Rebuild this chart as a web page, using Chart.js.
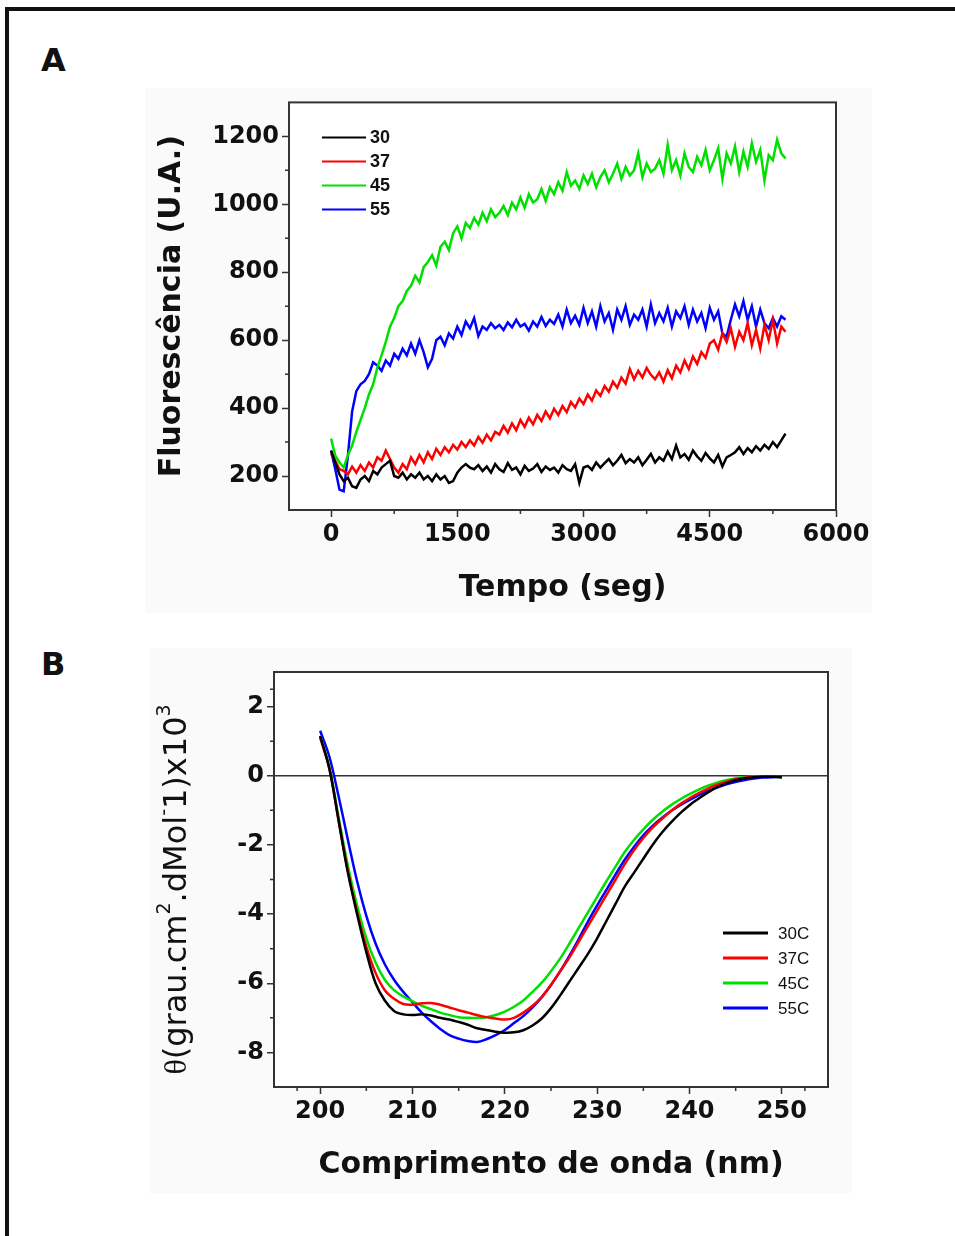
<!DOCTYPE html>
<html>
<head>
<meta charset="utf-8">
<script src="https://cdn.jsdelivr.net/npm/chart.js@4.4.0/dist/chart.umd.min.js"></script>
<style>
body { margin: 0; background: #fff; width: 955px; height: 1236px; overflow: hidden; position: relative; }
#moldura { position: absolute; left: 5px; top: 7px; width: 960px; height: 1240px; border-top: 4px solid #111; border-left: 4px solid #111; }
.fundo { position: absolute; background: #fafafa; }
.letra { position: absolute; font: bold 32px "DejaVu Sans"; line-height: 32px; color: #111; }
canvas { position: absolute; }
</style>
</head>
<body>
<div id="moldura"></div>
<div class="fundo" style="left:145px;top:88px;width:727px;height:525px"></div>
<div class="fundo" style="left:150px;top:648px;width:702px;height:545px"></div>
<div class="letra" style="left:41px;top:44px">A</div>
<div class="letra" style="left:41px;top:648px">B</div>
<canvas id="graficoA" width="735" height="530" style="left:140px;top:85px"></canvas>
<canvas id="graficoB" width="720" height="560" style="left:140px;top:645px"></canvas>
<script>
// ---- Painel A: fluorescência x tempo ----
const tempo = [
  0,50,100,150,200,250,300,350,400,450,
  500,550,600,650,700,750,800,850,900,950,
  1000,1050,1100,1150,1200,1250,1300,1350,1400,1450,
  1500,1550,1600,1650,1700,1750,1800,1850,1900,1950,
  2000,2050,2100,2150,2200,2250,2300,2350,2400,2450,
  2500,2550,2600,2650,2700,2750,2800,2850,2900,2950,
  3000,3050,3100,3150,3200,3250,3300,3350,3400,3450,
  3500,3550,3600,3650,3700,3750,3800,3850,3900,3950,
  4000,4050,4100,4150,4200,4250,4300,4350,4400,4450,
  4500,4550,4600,4650,4700,4750,4800,4850,4900,4950,
  5000,5050,5100,5150,5200,5250,5300,5350,5400
];
const fluor30 = [
  275,240,205,185,195,170,165,190,200,185,
  215,205,225,235,245,200,195,210,190,205,
  195,210,190,200,185,205,190,200,180,185,
  210,225,235,225,220,232,215,228,210,235,
  220,212,238,218,225,205,230,215,222,235,
  212,228,218,225,210,232,220,215,235,180,
  225,230,218,240,225,238,250,232,245,262,
  238,250,240,255,232,248,265,240,255,245,
  272,250,290,255,265,248,275,258,245,268,
  252,240,262,228,255,262,270,285,265,282,
  270,288,275,292,280,300,285,305,325
];
const fluor37 = [
  265,245,220,215,205,228,210,232,215,240,
  225,255,245,275,250,225,210,235,220,255,
  235,262,240,270,250,280,262,285,270,292,
  278,300,285,305,290,315,298,322,305,330,
  322,348,328,355,335,365,345,372,352,380,
  362,390,370,398,380,406,388,418,402,428,
  412,440,422,452,436,465,448,478,460,490,
  472,515,485,510,490,518,498,485,505,478,
  512,488,525,505,540,515,552,530,565,548,
  590,600,572,620,595,635,580,625,600,650,
  585,630,575,645,600,660,590,640,625
];
const fluor45 = [
  310,260,240,225,262,290,330,365,400,440,
  470,520,555,595,640,665,700,715,745,760,
  790,770,815,830,850,820,875,890,865,915,
  935,900,945,930,960,940,975,950,985,962,
  975,995,968,1005,985,1020,990,1030,1005,1015,
  1045,1010,1050,1030,1065,1040,1095,1055,1070,1045,
  1085,1060,1090,1050,1080,1100,1065,1090,1120,1075,
  1110,1085,1100,1150,1080,1120,1095,1105,1130,1090,
  1175,1100,1130,1085,1150,1110,1095,1140,1115,1160,
  1100,1130,1165,1075,1150,1120,1170,1095,1155,1110,
  1180,1125,1160,1070,1145,1130,1190,1150,1135
];
const fluor55 = [
  275,220,160,155,260,390,450,470,480,500,
  535,525,510,540,525,560,545,575,555,590,
  560,600,565,520,545,600,610,585,620,605,
  640,615,655,635,665,612,640,630,650,635,
  645,630,652,638,660,640,648,628,655,640,
  668,642,660,648,675,640,690,650,672,645,
  695,650,685,640,700,655,680,630,690,660,
  700,645,675,660,690,640,705,650,680,655,
  695,640,685,665,700,645,690,655,680,635,
  695,660,685,620,610,660,705,670,715,660,
  700,640,690,650,635,665,640,670,660
];
const legendaA = ['30', '37', '45', '55'];
const ticksAX = [0, 1500, 3000, 4500, 6000];
const ticksAY = [200, 400, 600, 800, 1000, 1200];

// ---- Painel B: dicroísmo circular ----
const onda = [
  200,201,202,203,204,205,206,207,208,209,
  210,211,212,213,214,215,216,217,218,219,
  220,221,222,223,224,225,226,227,228,229,
  230,231,232,233,234,235,236,237,238,239,
  240,241,242,243,244,245,246,247,248,249,250
];
const cd30C = [
  1.15,0.2,-1.3,-2.8,-4.0,-5.1,-6.0,-6.5,-6.8,-6.9,
  -6.92,-6.9,-6.93,-7.0,-7.05,-7.12,-7.2,-7.3,-7.35,-7.4,
  -7.43,-7.42,-7.36,-7.22,-7.02,-6.72,-6.35,-5.95,-5.55,-5.15,
  -4.7,-4.2,-3.7,-3.2,-2.8,-2.4,-2.0,-1.65,-1.35,-1.08,
  -0.85,-0.66,-0.48,-0.33,-0.22,-0.13,-0.07,-0.04,-0.03,-0.03,-0.04
];
const cd37C = [
  1.1,0.2,-1.3,-2.75,-3.95,-4.95,-5.7,-6.2,-6.45,-6.6,
  -6.62,-6.58,-6.57,-6.62,-6.7,-6.78,-6.85,-6.92,-6.98,-7.02,
  -7.05,-7.0,-6.85,-6.65,-6.4,-6.05,-5.65,-5.25,-4.8,-4.35,
  -3.9,-3.45,-3.0,-2.55,-2.15,-1.8,-1.5,-1.25,-1.02,-0.82,
  -0.65,-0.5,-0.37,-0.26,-0.17,-0.1,-0.06,-0.03,-0.02,-0.02,-0.04
];
const cd45C = [
  1.15,0.25,-1.2,-2.6,-3.75,-4.7,-5.4,-5.9,-6.2,-6.38,
  -6.52,-6.65,-6.75,-6.85,-6.92,-6.98,-7.0,-7.0,-6.98,-6.92,
  -6.82,-6.68,-6.5,-6.25,-5.98,-5.65,-5.28,-4.85,-4.4,-3.95,
  -3.5,-3.05,-2.62,-2.2,-1.85,-1.55,-1.28,-1.05,-0.85,-0.68,
  -0.53,-0.4,-0.29,-0.2,-0.13,-0.07,-0.04,-0.02,-0.02,-0.03,-0.04
];
const cd55C = [
  1.3,0.55,-0.6,-1.85,-3.05,-4.05,-4.85,-5.45,-5.9,-6.25,
  -6.55,-6.85,-7.1,-7.32,-7.5,-7.6,-7.67,-7.7,-7.62,-7.5,
  -7.35,-7.15,-6.95,-6.7,-6.4,-6.05,-5.65,-5.2,-4.72,-4.22,
  -3.75,-3.3,-2.85,-2.42,-2.05,-1.72,-1.45,-1.22,-1.02,-0.85,
  -0.7,-0.56,-0.44,-0.34,-0.25,-0.18,-0.12,-0.08,-0.05,-0.04,-0.04
];
const legendaB = ['30C', '37C', '45C', '55C'];
const ticksBX = [200, 210, 220, 230, 240, 250];
const ticksBY = [-8, -6, -4, -2, 0, 2];

const cores = ['#000000', '#ff0000', '#00e000', '#0000ff'];
const corEixo = '#333';
const fonteTick = { family: 'DejaVu Sans', weight: 'bold', size: 24 };
const fonteTitulo = { family: 'DejaVu Sans', weight: 'bold', size: 30 };

// pontos {x,y} a partir das listas
function pontos(xs, ys) {
  return xs.map((v, i) => ({ x: v, y: ys[i] }));
}

// pontos médios entre ticks maiores (ticks menores)
function meios(lista) {
  const r = [];
  for (let i = 0; i < lista.length - 1; i++) r.push((lista[i] + lista[i + 1]) / 2);
  return r;
}

// Plugin: fundo branco, moldura, ticks menores e legenda interna
const moldura = {
  id: 'moldura',
  beforeDraw(chart) {
    const { ctx, chartArea: a } = chart;
    ctx.save();
    ctx.fillStyle = '#fff';
    ctx.fillRect(a.left, a.top, a.right - a.left, a.bottom - a.top);
    ctx.restore();
  },
  afterDatasetsDraw(chart, args, opts) {
    const { ctx, chartArea: a, scales: { x, y } } = chart;
    ctx.save();
    ctx.strokeStyle = corEixo;
    ctx.lineWidth = 2;
    ctx.strokeRect(a.left, a.top, a.right - a.left, a.bottom - a.top);

    ctx.lineWidth = 1.5;
    ctx.beginPath();
    meios(opts.ticksX).forEach(v => {
      const px = x.getPixelForValue(v);
      ctx.moveTo(px, a.bottom);
      ctx.lineTo(px, a.bottom + 4);
    });
    meios(opts.ticksY).forEach(v => {
      const py = y.getPixelForValue(v);
      ctx.moveTo(a.left - 4, py);
      ctx.lineTo(a.left, py);
    });
    ctx.stroke();

    // legenda
    const L = opts.legenda;
    ctx.font = L.fonte;
    ctx.textBaseline = 'middle';
    chart.data.datasets.forEach((ds, i) => {
      const yy = a.top + L.y + i * L.passo;
      ctx.strokeStyle = ds.borderColor;
      ctx.lineWidth = L.espessura;
      ctx.beginPath();
      ctx.moveTo(a.left + L.x, yy);
      ctx.lineTo(a.left + L.x + L.comp, yy);
      ctx.stroke();
      ctx.fillStyle = '#111';
      ctx.fillText(ds.label, a.left + L.x + L.comp + L.gap, yy + 1);
    });
    ctx.restore();
  }
};

// Plugin: título do eixo y do painel B com sobrescritos
const tituloTheta = {
  id: 'tituloTheta',
  afterDraw(chart, args, opts) {
    if (!opts.partes) return;
    const { ctx, chartArea: a } = chart;
    ctx.save();
    let total = 0;
    opts.partes.forEach(p => {
      ctx.font = p.fonte;
      p.w = ctx.measureText(p.t).width;
      total += p.w;
    });
    ctx.translate(opts.x, (a.top + a.bottom) / 2 + opts.dy);
    ctx.rotate(-Math.PI / 2);
    ctx.textBaseline = 'middle';
    ctx.fillStyle = '#111';
    let xx = -total / 2;
    opts.partes.forEach(p => {
      ctx.font = p.fonte;
      ctx.fillText(p.t, xx, p.dy || 0);
      xx += p.w;
    });
    ctx.restore();
  }
};

Chart.register(moldura, tituloTheta);

function eixo(min, max, ticks, extra) {
  return Object.assign({
    type: 'linear',
    min: min,
    max: max,
    afterBuildTicks: s => { s.ticks = ticks.map(v => ({ value: v })); },
    border: { display: false },
    grid: { drawOnChartArea: false, tickLength: 7, tickColor: corEixo, tickWidth: 1.5 },
    ticks: { font: fonteTick, color: '#111', autoSkip: false, maxRotation: 0, callback: v => String(v) }
  }, extra);
}

// ---- Gráfico A ----
const seriesA = [fluor30, fluor37, fluor45, fluor55];
new Chart(document.getElementById('graficoA'), {
  type: 'line',
  data: {
    datasets: seriesA.map((s, i) => ({
      label: legendaA[i],
      data: pontos(tempo, s),
      borderColor: cores[i],
      borderWidth: 2.5,
      pointRadius: 0,
      tension: 0
    }))
  },
  options: {
    responsive: false,
    animation: false,
    layout: { padding: { top: 15, right: 39, left: 0, bottom: 0 } },
    plugins: {
      legend: { display: false },
      tooltip: { enabled: false },
      moldura: {
        ticksX: ticksAX, ticksY: ticksAY,
        legenda: { x: 33, y: 35, passo: 24, comp: 44, gap: 4, espessura: 2, fonte: 'bold 18px "Liberation Sans"' }
      }
    },
    scales: {
      x: eixo(-500, 6000, ticksAX, {
        afterFit: s => { s.height = 105; },
        title: { display: true, text: 'Tempo (seg)', font: fonteTitulo, color: '#111', padding: { top: 0, bottom: 9 } }
      }),
      y: eixo(100, 1300, ticksAY, {
        afterFit: s => { s.width = 149; },
        title: { display: true, text: 'Fluorescência (U.A.)', font: fonteTitulo, color: '#111', padding: { top: 14, bottom: 0 } }
      })
    }
  }
});

// ---- Gráfico B ----
const seriesB = [cd30C, cd37C, cd45C, cd55C];
const fonteN = '32px "DejaVu Sans"';
const fonteS = '19px "DejaVu Sans"';
new Chart(document.getElementById('graficoB'), {
  type: 'line',
  data: {
    datasets: seriesB.map((s, i) => ({
      label: legendaB[i],
      data: pontos(onda, s),
      borderColor: cores[i],
      borderWidth: 2.5,
      pointRadius: 0,
      tension: 0.35
    }))
  },
  options: {
    responsive: false,
    animation: false,
    layout: { padding: { top: 27, right: 32, left: 0, bottom: 0 } },
    plugins: {
      legend: { display: false },
      tooltip: { enabled: false },
      moldura: {
        ticksX: [195].concat(ticksBX, [255]), ticksY: ticksBY.concat([3]),
        legenda: { x: 449, y: 261, passo: 25, comp: 45, gap: 10, espessura: 3, fonte: '17px "Liberation Sans"' }
      },
      tituloTheta: {
        x: 38, dy: 10,
        partes: [
          { t: 'θ', fonte: '32px "Liberation Serif"' },
          { t: '(grau.cm', fonte: fonteN },
          { t: '2', fonte: fonteS, dy: -13 },
          { t: '.dMol', fonte: fonteN },
          { t: '-', fonte: fonteS, dy: -13 },
          { t: '1)x10', fonte: fonteN },
          { t: '3', fonte: fonteS, dy: -13 }
        ]
      }
    },
    scales: {
      x: eixo(195, 255, ticksBX, {
        afterFit: s => { s.height = 118; },
        title: { display: true, text: 'Comprimento de onda (nm)', font: fonteTitulo, color: '#111', padding: { top: 0, bottom: 22 } }
      }),
      y: eixo(-9, 3, ticksBY, {
        afterFit: s => { s.width = 134; },
        grid: {
          drawOnChartArea: true, tickLength: 7, tickColor: corEixo, tickWidth: 1.5, lineWidth: 1.5,
          color: c => (c.tick && c.tick.value === 0) ? corEixo : 'rgba(0,0,0,0)'
        }
      })
    }
  }
});
</script>
</body>
</html>
